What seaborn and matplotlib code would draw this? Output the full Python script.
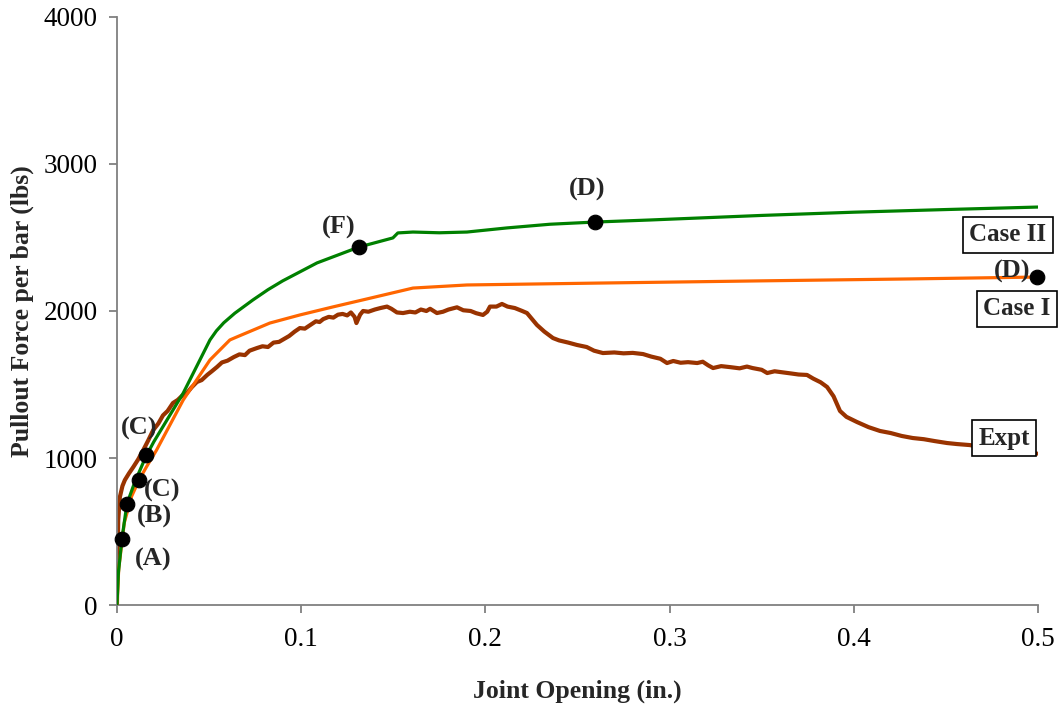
import matplotlib
matplotlib.use("Agg")
import matplotlib.pyplot as plt
import seaborn as sns

# Experimental pullout response
expt_x = [0, 0.0003, 0.0007, 0.0016, 0.0030, 0.0043, 0.0065, 0.0089, 0.0115, 0.0143,
          0.0170, 0.0197, 0.0225, 0.0250, 0.0275, 0.0304, 0.0330, 0.0355, 0.0380, 0.0405,
          0.0434, 0.0460, 0.0490, 0.0515, 0.0543, 0.0570, 0.0600, 0.0635, 0.0665, 0.0695,
          0.0720, 0.0760, 0.0790, 0.0820, 0.0850, 0.0880, 0.0907, 0.0935, 0.0965, 0.0993,
          0.1020, 0.1050, 0.1080, 0.1100, 0.1120, 0.1150, 0.1175, 0.1200, 0.1225, 0.1250,
          0.1270, 0.1290, 0.1300, 0.1320, 0.1336, 0.1365, 0.1400, 0.1430, 0.1466, 0.1490,
          0.1520, 0.1553, 0.1590, 0.1620, 0.1650, 0.1680, 0.1700, 0.1737, 0.1770, 0.1800,
          0.1846, 0.1880, 0.1920, 0.1950, 0.1987, 0.2010, 0.2025, 0.2060, 0.2090, 0.2120,
          0.2160, 0.2200, 0.2226, 0.2250, 0.2280, 0.2320, 0.2367, 0.2400, 0.2450, 0.2497,
          0.2550, 0.2590, 0.2638, 0.2700, 0.2750, 0.2800, 0.2856, 0.2900, 0.2950, 0.2986,
          0.3020, 0.3060, 0.3100, 0.3150, 0.3180, 0.3210, 0.3236, 0.3280, 0.3330, 0.3380,
          0.3420, 0.3450, 0.3500, 0.3530, 0.3570, 0.3620, 0.3660, 0.3700, 0.3746, 0.3780,
          0.3820, 0.3855, 0.3890, 0.3925, 0.3960, 0.4017, 0.4080, 0.4142, 0.4200, 0.4260,
          0.4320, 0.4380, 0.4440, 0.4506, 0.4560, 0.4630, 0.4700, 0.4760, 0.4830, 0.4900,
          0.4995]
expt_y = [0, 300, 578, 735, 810, 850, 895, 939, 990, 1054,
          1120, 1190, 1235, 1290, 1320, 1374, 1395, 1425, 1442, 1480,
          1517, 1530, 1565, 1590, 1619, 1650, 1662, 1687, 1705, 1700,
          1730, 1748, 1760, 1755, 1785, 1790, 1810, 1830, 1860, 1884,
          1880, 1905, 1930, 1925, 1945, 1960, 1955, 1975, 1980, 1970,
          1990, 1960, 1918, 1975, 2000, 1995, 2010, 2020, 2030, 2015,
          1990, 1986, 1995, 1990, 2010, 2000, 2015, 1986, 1995, 2010,
          2025, 2005, 2000, 1985, 1973, 1995, 2030, 2030, 2048, 2030,
          2020, 2000, 1986, 1950, 1905, 1860, 1816, 1800, 1785, 1769,
          1755, 1730, 1714, 1718, 1712, 1715, 1707, 1690, 1675, 1646,
          1660, 1648, 1652, 1646, 1655, 1630, 1612, 1625, 1618, 1610,
          1622, 1612, 1600, 1578, 1590, 1582, 1575, 1568, 1565, 1540,
          1515, 1483, 1420, 1320, 1280, 1245, 1210, 1184, 1170, 1150,
          1136, 1128, 1115, 1102, 1095, 1088, 1072, 1065, 1058, 1045,
          1030]

# Case I model
case1_x = [0, 0.001, 0.004, 0.008, 0.012, 0.016, 0.0215, 0.036, 0.0505, 0.0613,
           0.065, 0.083, 0.0993, 0.117, 0.1357, 0.1607, 0.19, 0.262, 0.35, 0.43, 0.5]
case1_y = [0, 250, 560, 740, 850, 939, 1054, 1395, 1667, 1803,
           1823, 1918, 1973, 2027, 2082, 2156, 2177, 2190, 2205, 2218, 2231]

# Case II model
case2_x = [0, 0.0008, 0.0027, 0.0054, 0.0095, 0.0157, 0.020, 0.036, 0.0505, 0.054,
           0.058, 0.064, 0.0738, 0.082, 0.09, 0.1086, 0.1314, 0.1498, 0.1525, 0.1607,
           0.175, 0.19, 0.2117, 0.235, 0.2595, 0.2894, 0.35, 0.40, 0.45, 0.5]
case2_y = [0, 220, 449, 687, 830, 1010, 1110, 1442, 1803, 1865,
           1920, 1985, 2075, 2145, 2205, 2327, 2435, 2497, 2531, 2537,
           2532, 2537, 2565, 2590, 2605, 2619, 2650, 2672, 2690, 2707]

# Labelled stages on the model curves
stage_x = [0.0027, 0.0054, 0.0120, 0.0157, 0.1314, 0.2595, 0.4996]
stage_y = [449, 687, 850, 1020, 2435, 2605, 2229]
stage_names = ["(A)", "(B)", "(C)", "(C)", "(F)", "(D)", "(D)"]
stage_label_x = [0.0195, 0.0206, 0.0244, 0.0119, 0.1205, 0.2552, 0.4857]
stage_label_y = [313, 605, 776, 1204, 2565, 2830, 2268]

curve_names = ["Case II", "Case I", "Expt"]
curve_label_x = [0.4837, 0.4884, 0.4815]
curve_label_y = [2517, 2014, 1136]

x_ticks = [0, 0.1, 0.2, 0.3, 0.4, 0.5]
x_tick_labels = ["0", "0.1", "0.2", "0.3", "0.4", "0.5"]
y_ticks = [0, 1000, 2000, 3000, 4000]

sns.set_style("white")
plt.rcParams["font.family"] = ["Liberation Serif", "DejaVu Serif"]

fig = plt.figure(figsize=(10.63, 7.06), dpi=100)
ax = fig.add_axes([0.110, 0.143, 0.8665, 0.833])

sns.lineplot(x=expt_x, y=expt_y, color="#993300", linewidth=3.0, ax=ax,
             estimator=None, sort=False, zorder=2)
sns.lineplot(x=case1_x, y=case1_y, color="#FF6600", linewidth=2.3, ax=ax,
             estimator=None, sort=False, zorder=3)
sns.lineplot(x=case2_x, y=case2_y, color="#008000", linewidth=2.3, ax=ax,
             estimator=None, sort=False, zorder=4)
sns.scatterplot(x=stage_x, y=stage_y, color="black", s=110, edgecolor="black",
                ax=ax, zorder=5, clip_on=False)

for name, lx, ly in zip(stage_names, stage_label_x, stage_label_y):
    ax.text(lx, ly, name, ha="center", va="center", fontsize=19,
            fontweight="bold", zorder=6)

for name, lx, ly in zip(curve_names, curve_label_x, curve_label_y):
    ax.text(lx, ly, name, ha="center", va="center", fontsize=18,
            fontweight="bold", zorder=7,
            bbox=dict(boxstyle="square,pad=0.25", facecolor="white",
                      edgecolor="black", linewidth=1.2))

ax.set_xlim(0, 0.5)
ax.set_ylim(0, 4000)
ax.set_xticks(x_ticks)
ax.set_xticklabels(x_tick_labels)
ax.set_yticks(y_ticks)

for side in ["top", "right"]:
    ax.spines[side].set_visible(False)
for side in ["left", "bottom"]:
    ax.spines[side].set_color("#808080")
    ax.spines[side].set_linewidth(1.3)

ax.tick_params(axis="both", which="major", direction="out", length=6,
               width=1.3, color="#808080", labelsize=19.5, labelcolor="black",
               left=True, bottom=True)
ax.tick_params(axis="x", pad=10)
ax.tick_params(axis="y", pad=8)

ax.set_xlabel("Joint Opening (in.)", fontsize=18.5, fontweight="bold", labelpad=20)
ax.set_ylabel("Pullout Force per bar (lbs)", fontsize=18.5, fontweight="bold",
              labelpad=7)

fig.savefig("out.png", dpi=100)
